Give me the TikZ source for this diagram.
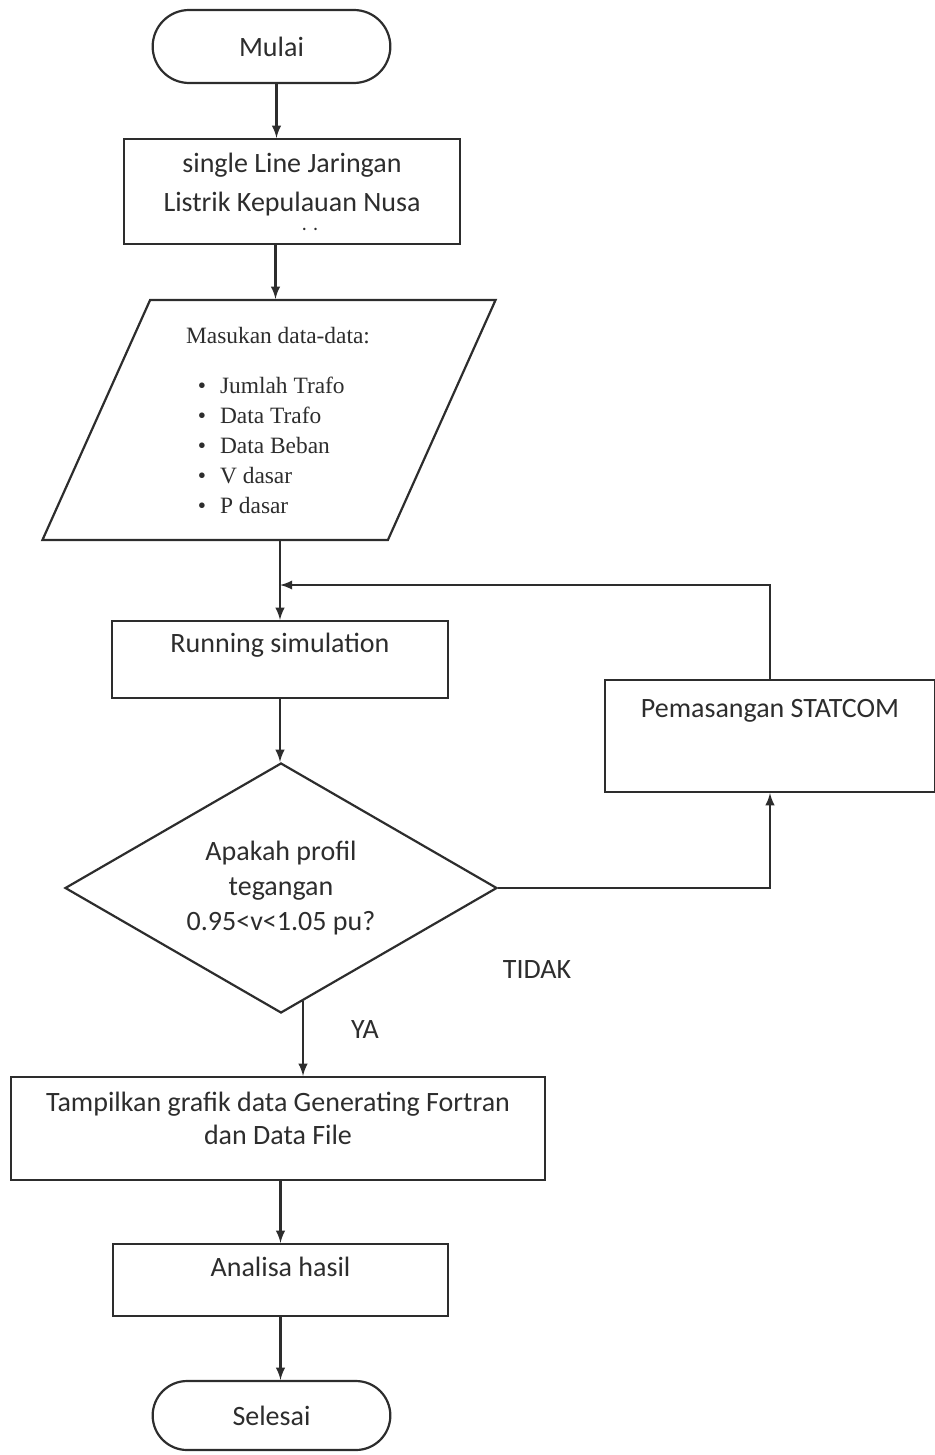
\documentclass[tikz,border=0pt]{standalone}
\usepackage{fontspec}
\setmainfont{Carlito}
\newfontfamily\listfont{Liberation Serif}
\usetikzlibrary{shapes.geometric}
\usetikzlibrary{shapes.misc}
\definecolor{encre}{RGB}{45,45,45}

\begin{document}
\begin{tikzpicture}[x=0.5pt,y=-0.5pt,
  ligne/.style={line width=1.1pt,draw=encre},
  fleche/.style={ligne,->,>=latex},
  boite/.style={ligne,rectangle,text=encre,align=center,font=\fontsize{14}{17}\selectfont},
  terminal/.style={ligne,rounded rectangle,minimum width=125.5pt,text=encre,font=\fontsize{14}{17}\selectfont},
  donnee/.style={ligne,trapezium,trapezium left angle=64,trapezium right angle=116,trapezium stretches=true,
    minimum width=227pt,minimum height=120pt,text=encre,align=left,font=\listfont\fontsize{11.7}{15}\selectfont},
  decision/.style={ligne,diamond,shape aspect=1.73,minimum width=216pt,minimum height=125pt,inner sep=0pt,
    text=encre,align=center,font=\fontsize{14}{17.5}\selectfont},
  etiquette/.style={text=encre,font=\fontsize{14}{17}\selectfont}]
\useasboundingbox (0,0) rectangle (934,1455);
\node[terminal,minimum height=36.5pt] (mulai) at (271.5,46.5) {Mulai};
\node[boite,minimum width=168pt,minimum height=52.5pt,font=\fontsize{14}{19.5}\selectfont] (jaringan) at (292,191.5)
  {single Line Jaringan\\Listrik Kepulauan Nusa\\[-10pt]{\fontsize{10}{10}\selectfont\hspace*{18pt}. .}};
\node[donnee] (masukan) at (269,420) {\hspace*{9pt}Masukan data-data:\\[10pt]
  \makebox[26pt][r]{\textbullet\hspace{7pt}}Jumlah Trafo\\
  \makebox[26pt][r]{\textbullet\hspace{7pt}}Data Trafo\\
  \makebox[26pt][r]{\textbullet\hspace{7pt}}Data Beban\\
  \makebox[26pt][r]{\textbullet\hspace{7pt}}V dasar\\
  \makebox[26pt][r]{\textbullet\hspace{7pt}}P dasar};
\node[boite,minimum width=168pt,minimum height=38.5pt,text depth=17pt] (run) at (280,659.5) {Running simulation};
\node[decision] (profil) at (281,888) {Apakah profil\\tegangan\\0.95<v<1.05 pu?};
\node[boite,minimum width=165pt,minimum height=56pt,text depth=28pt] (statcom) at (770,736) {Pemasangan STATCOM};
\node[boite,minimum width=267pt,minimum height=51.5pt,font=\fontsize{14}{16.5}\selectfont,text depth=10pt] (tampil) at (278,1128.5)
  {Tampilkan grafik data Generating Fortran\\dan Data File};
\node[boite,minimum width=167.5pt,minimum height=36pt,text depth=13pt] (analisa) at (280.5,1280) {Analisa hasil};
\node[terminal,minimum height=34.5pt] (selesai) at (271.5,1415.5) {Selesai};
\node[etiquette] (tidak) at (537,970) {TIDAK};
\node[etiquette] (ya) at (365,1030) {YA};
\coordinate (retour) at (280,585);
\draw[fleche] ([xshift=2.5pt]mulai.south) -- ([xshift=2.5pt]mulai.south |- jaringan.north);
\draw[fleche] ([xshift=2pt]mulai.south |- jaringan.south) -- ([xshift=2pt]mulai.south |- masukan.north);
\draw[fleche] (run |- masukan.south) -- (run.north);
\draw[fleche] (statcom.north) |- (retour);
\draw[fleche] (run.south) -- (run.south |- profil.north);
\draw[fleche] (profil.east) -| (statcom.south);
\draw[fleche] (profil.-79) -- (profil.-79 |- tampil.north);
\draw[fleche] (analisa |- tampil.south) -- (analisa.north);
\draw[fleche] (analisa.south) -- (analisa.south |- selesai.north);
\end{tikzpicture}
\end{document}
